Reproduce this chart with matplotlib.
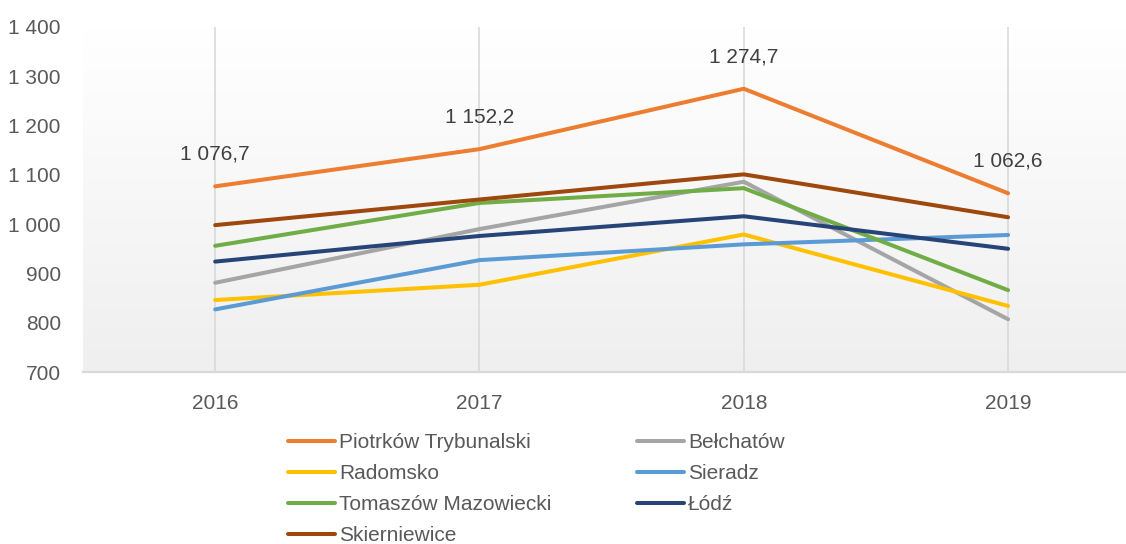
import matplotlib
matplotlib.use("Agg")
import matplotlib.pyplot as plt
import numpy as np
from matplotlib.lines import Line2D
from matplotlib.colors import LinearSegmentedColormap
from matplotlib.ticker import FuncFormatter

plt.rcParams["font.family"] = ["Liberation Sans Narrow", "Liberation Sans", "DejaVu Sans"]

years = ["2016", "2017", "2018", "2019"]
piotrkow = [1076.7, 1152.2, 1274.7, 1062.6]
belchatow = [881, 990, 1086, 807]
radomsko = [846, 877, 979, 834]
sieradz = [827, 927, 959, 978]
tomaszow = [956, 1043, 1073, 866]
lodz = [924, 976, 1016, 950]
skierniewice = [998, 1050, 1101, 1014]

series = [
    ("Piotrków Trybunalski", piotrkow, "#ED7D31"),
    ("Bełchatów", belchatow, "#A5A5A5"),
    ("Radomsko", radomsko, "#FFC000"),
    ("Sieradz", sieradz, "#5B9BD5"),
    ("Tomaszów Mazowiecki", tomaszow, "#70AD47"),
    ("Łódź", lodz, "#264478"),
    ("Skierniewice", skierniewice, "#9E480E"),
]

W, H = 1126, 544
FS = 15
fig = plt.figure(figsize=(W / 100, H / 100), dpi=100)
ax = fig.add_axes([83 / W, (H - 372) / H, (W - 83) / W, (372 - 27) / H])

x = np.arange(len(years))
ax.set_xlim(-0.5, 3.446)
ax.set_ylim(700, 1400)

# background gradient
grad = LinearSegmentedColormap.from_list("bg", ["#ffffff", "#efefef"])
ax.imshow(np.linspace(0, 1, 256).reshape(-1, 1), cmap=grad, aspect="auto",
          extent=[0, 1, 0, 1], transform=ax.transAxes, zorder=0)

for xi in x:
    ax.axvline(xi, color="#d9d9d9", linewidth=1.2, zorder=1)

for name, vals, color in series:
    ax.plot(x, vals, color=color, linewidth=2.9, solid_capstyle="round",
            solid_joinstyle="round", zorder=3)

for xi, v in zip(x, piotrkow):
    label = f"{v:,.1f}".replace(",", " ").replace(".", ",")
    ax.annotate(label, (xi, v), xytext=(0, 32), textcoords="offset pixels",
                ha="center", va="center", fontsize=FS, color="#404040")

for side in ["top", "right", "left"]:
    ax.spines[side].set_visible(False)
ax.spines["bottom"].set_color("#d9d9d9")
ax.spines["bottom"].set_linewidth(1.6)

ax.set_xticks(x)
ax.set_xticklabels(years)
ax.set_yticks(np.arange(700, 1401, 100))
ax.yaxis.set_major_formatter(FuncFormatter(lambda v, p: f"{int(v):,}".replace(",", " ")))
ax.tick_params(axis="both", length=0, labelsize=FS, labelcolor="#595959")
ax.tick_params(axis="x", pad=16)
ax.tick_params(axis="y", pad=16)


def make_legend(items, x0):
    handles = [Line2D([], [], color=c, linewidth=2.9, solid_capstyle="round") for _, _, c in items]
    labels = [n for n, _, _ in items]
    leg = fig.legend(handles, labels, loc="upper left", bbox_to_anchor=(x0 / W, 1 - 433 / H),
                     frameon=False, fontsize=FS, handlelength=2.26, handletextpad=0.2,
                     labelspacing=0.58, borderpad=0, borderaxespad=0)
    for t in leg.get_texts():
        t.set_color("#595959")
    return leg


make_legend([series[0], series[2], series[4], series[6]], 288)
make_legend([series[1], series[3], series[5]], 637)

fig.savefig("out.png", dpi=100)
